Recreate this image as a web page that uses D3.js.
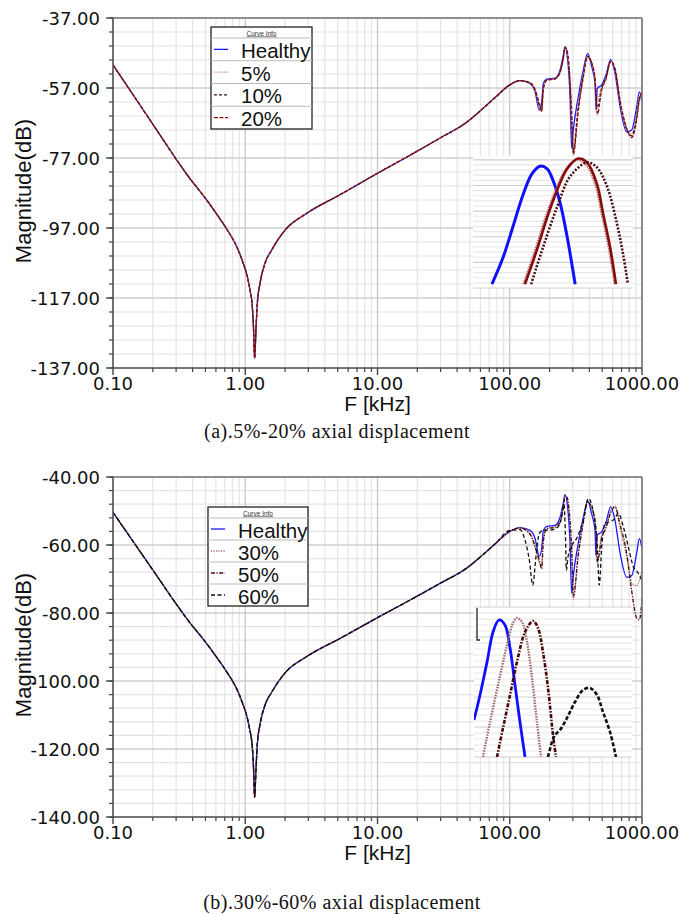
<!DOCTYPE html>
<html>
<head>
<meta charset="utf-8">
<script src="https://cdn.jsdelivr.net/npm/d3@7"></script>
<style>
  body { margin: 0; background: #fff; }
  svg { display: block; }
</style>
</head>
<body>
<svg id="fig" width="688" height="914"></svg>
<script>
// ---------- shared low-frequency band (all curves coincide here) ----------
const lowFreq = [0.1, 0.214, 0.3, 0.382, 0.45, 0.511, 0.607, 0.724, 0.861, 0.966, 1.037, 1.086, 1.125, 1.151, 1.178,
                 1.205, 1.234, 1.293, 1.41, 1.585, 2.0, 2.92, 5.2, 10.4, 16.7, 29.7, 47.2, 59.6];
const lowDb = [-50.4, -69.0, -77.3, -82.9, -86.3, -89.0, -93.0, -97.3, -102.3, -107.1, -110.9, -114.7, -118.5, -124.2, -134.2,
               -126.1, -118.5, -112.8, -107.1, -103.3, -97.6, -92.8, -87.5, -81.0, -76.7, -71.3, -66.8, -63.6];

// ---------- resonance band (kHz) ----------
const hiFreq = [77.3, 100.4, 119.6, 142.3, 155.2, 167.3, 174.5, 179.4, 190.2, 219.6, 239.9, 254.2, 261.8, 272.4,
                285.6, 293.9, 302.6, 329.8, 359.8, 388.2, 416.8, 441.6, 448.8, 459.2, 495.5, 534.2, 579.7, 625.2,
                682.3, 766.3, 835.6, 912, 955, 1000];

const healthyHi = [-59.7, -56.0, -54.9, -55.7, -58.0, -63.3, -60.9, -55.7, -54.5, -54.2, -51.9, -47.6, -45.2, -48.0,
                   -59.5, -74.2, -69.0, -59.5, -51.9, -47.1, -50.9, -55.7, -63.3, -57.1, -56.1, -53.3, -48.8, -52.8,
                   -62.3, -69.5, -69.0, -62.3, -58.1, -61.0];
const ax5Hi  = [-59.7, -56.0, -54.9, -55.6, -57.8, -62.6, -62.2, -56.3, -54.6, -54.3, -52.2, -48.0, -45.3, -47.2,
                -57.5, -70.0, -73.5, -61.5, -53.0, -47.6, -50.3, -55.2, -61.5, -60.5, -56.8, -53.8, -49.1, -52.2,
                -61.5, -69.0, -70.2, -64.0, -59.3, -59.5];
const ax10Hi = [-59.8, -56.1, -54.9, -55.5, -57.6, -62.0, -63.0, -56.9, -54.7, -54.4, -52.4, -48.3, -45.4, -46.9,
                -56.2, -67.0, -75.0, -62.5, -53.5, -47.9, -50.0, -54.8, -60.0, -62.5, -57.1, -54.1, -49.3, -51.8,
                -61.0, -68.8, -70.7, -65.0, -59.9, -58.8];
const ax20Hi = [-59.8, -56.1, -54.9, -55.5, -57.4, -61.5, -63.8, -57.5, -54.8, -54.4, -52.6, -48.6, -45.4, -46.6,
                -55.0, -64.0, -76.0, -63.5, -54.0, -48.2, -49.8, -54.5, -58.5, -64.5, -57.5, -54.5, -49.5, -51.5,
                -60.5, -68.5, -71.2, -66.0, -60.5, -58.0];
const ax30Hi = [-59.7, -55.9, -54.9, -56.5, -60.0, -65.0, -65.5, -58.0, -55.0, -54.6, -53.0, -48.5, -45.3, -46.5,
                -54.0, -63.0, -76.0, -62.0, -53.0, -47.0, -49.5, -53.8, -57.0, -64.5, -57.0, -54.5, -50.0, -48.5,
                -55.0, -63.5, -71.0, -72.0, -70.5, -67.5];
const ax50Hi = [-59.7, -55.9, -55.0, -56.8, -60.5, -64.5, -67.0, -59.0, -55.2, -54.8, -53.3, -49.0, -45.6, -46.2,
                -53.0, -61.0, -75.0, -63.0, -53.5, -47.3, -49.0, -53.0, -56.0, -65.0, -58.0, -55.0, -50.5, -48.8,
                -54.0, -62.5, -73.5, -81.5, -82.0, -76.0];
// 60% displacement shifts the resonances, so it has its own frequency grid
const ax60Freq = [77.3, 100.4, 119.6, 130.3, 140.6, 149.2, 157.9, 167.3, 179.4, 201.4, 232.8, 247.2, 257, 264, 268,
                  276, 296, 321, 360, 393, 428, 459, 475, 496, 525, 573, 614, 662, 722, 788, 860, 937, 1000];
const ax60Hi  = [-59.7, -55.7, -55.5, -58.5, -64.4, -71.8, -63.4, -56.6, -55.6, -55.6, -54.6, -51.7, -48.0, -58.0,
                 -67.4, -63.4, -60.0, -58.0, -52.6, -46.3, -50.2, -60.5, -71.8, -60.5, -53.6, -53.1, -52.5, -50.7,
                 -54.6, -60.5, -66.4, -68.3, -70.5];

// ---------- zoomed insets ----------
const insetAHealthyF = [259.71, 260.13, 260.5, 260.88, 261.21, 261.51, 261.78, 262.0, 262.26, 262.53, 262.83];
const insetAHealthyD = [-46.0, -45.79, -45.55, -45.30, -45.14, -45.08, -45.10, -45.19, -45.36, -45.63, -46.0];
const insetA5F  = [260.90, 261.36, 261.74, 262.12, 262.50, 262.90, 263.22, 263.60, 263.84, 264.10, 264.32];
const insetA5D  = [-46.0, -45.72, -45.47, -45.26, -45.10, -45.03, -45.06, -45.23, -45.46, -45.72, -46.0];
const insetA10F = [261.18, 261.63, 262.15, 262.64, 263.28, 263.65, 264.03, 264.4, 264.63, 264.81];
const insetA10D = [-46.0, -45.71, -45.40, -45.16, -45.05, -45.09, -45.24, -45.53, -45.77, -46.0];
const insetA20F = [260.95, 261.4, 261.78, 262.15, 262.53, 262.94, 263.28, 263.65, 263.88, 264.14, 264.36];
const insetA20D = [-46.0, -45.73, -45.48, -45.27, -45.10, -45.02, -45.05, -45.22, -45.45, -45.71, -46.0];

const insetBHealthyF = [255.0, 255.76, 256.65, 257.41, 258.16, 258.92, 259.56, 260.19, 260.82, 261.46];
const insetBHealthyD = [-56.3, -53.8, -50.5, -47.5, -46.3, -46.8, -49.1, -52.8, -56.5, -60.0];
const insetB30F = [256.14, 257.03, 258.04, 259.18, 259.94, 260.44, 261.08, 261.71, 262.34, 262.97, 263.48];
const insetB30D = [-60.0, -56.5, -52.8, -48.8, -46.6, -46.1, -46.5, -48.5, -52.1, -56.5, -60.0];
const insetB50F = [257.91, 258.67, 259.56, 260.44, 261.46, 262.47, 263.10, 263.73, 264.37, 265.0, 265.38];
const insetB50D = [-60.0, -57.1, -53.8, -50.5, -47.5, -46.4, -47.1, -49.5, -53.1, -57.8, -60.0];
const insetB60F = [264.37, 264.87, 265.25, 265.89, 266.77, 267.78, 268.8, 269.68, 270.57, 271.33, 272.22, 272.97];
const insetB60D = [-60.0, -58.5, -57.8, -57.3, -56.1, -54.5, -53.3, -53.1, -53.8, -55.5, -57.5, -60.0];

// ---------- axes text ----------
const xTickValues = [0.1, 1, 10, 100, 1000];
const xTickLabels = ["0.10", "1.00", "10.00", "100.00", "1000.00"];
const yTicksA = [-37, -57, -77, -97, -117, -137];
const yTickLabelsA = ["-37.00", "-57.00", "-77.00", "-97.00", "-117.00", "-137.00"];
const yTicksB = [-40, -60, -80, -100, -120, -140];
const yTickLabelsB = ["-40.00", "-60.00", "-80.00", "-100.00", "-120.00", "-140.00"];

const legendA = ["Healthy", "5%", "10%", "20%"];
const legendB = ["Healthy", "30%", "50%", "60%"];

// ---------- styles ----------
const STY = {
  healthy: { color: "#1a1aff", dash: null },
  a5:  { color: "#c48a8a", dash: "1.2,1.3" },
  a10: { color: "#3a1414", dash: "3,2" },
  a20: { color: "#8e1010", dash: "4,1.5" },
  a30: { color: "#a86a6a", dash: "1.2,1.3" },
  a50: { color: "#4a0606", dash: "4,1.5,1.2,1.5" },
  a60: { color: "#111111", dash: "4,2.5" }
};

const svg = d3.select("#fig");
const X0 = 113, X1 = 642;
const FONT_TICK = "'DejaVu Sans', sans-serif";
const FONT_SANS = "'Liberation Sans', Arial, sans-serif";
const FONT_SERIF = "'Liberation Serif', 'Times New Roman', serif";

function pairs(f, d) { return f.map((v, i) => [v, d[i]]); }

function panel(cfg) {
  const g = svg.append("g");
  const x = d3.scaleLog().domain([0.1, 1000]).range([X0, X1]);
  const y = d3.scaleLinear().domain([cfg.yMin, cfg.yMax]).range([cfg.bottom, cfg.top]);
  const id = cfg.id;

  // grid
  const minorX = [];
  [0.1, 1, 10, 100].forEach(dec => { for (let k = 2; k <= 9; k++) minorX.push(dec * k); });
  const minorY = d3.range(cfg.yMax, cfg.yMin - 0.01, -4);
  const majorY = d3.range(cfg.yMax, cfg.yMin - 0.01, -20);
  g.selectAll(".gmx").data(minorX).join("line")
    .attr("x1", d => x(d)).attr("x2", d => x(d)).attr("y1", cfg.top).attr("y2", cfg.bottom)
    .attr("stroke", "#e4e4e4").attr("stroke-width", 1.2);
  g.selectAll(".gmy").data(minorY).join("line")
    .attr("x1", X0).attr("x2", X1).attr("y1", d => y(d)).attr("y2", d => y(d))
    .attr("stroke", "#e4e4e4").attr("stroke-width", 1.2);
  g.selectAll(".gMx").data(xTickValues).join("line")
    .attr("x1", d => x(d)).attr("x2", d => x(d)).attr("y1", cfg.top).attr("y2", cfg.bottom)
    .attr("stroke", "#c4c4c4").attr("stroke-width", 1.2);
  g.selectAll(".gMy").data(majorY).join("line")
    .attr("x1", X0).attr("x2", X1).attr("y1", d => y(d)).attr("y2", d => y(d))
    .attr("stroke", "#c4c4c4").attr("stroke-width", 1.2);

  // curves
  g.append("clipPath").attr("id", "clip" + id).append("rect")
    .attr("x", X0).attr("y", cfg.top).attr("width", X1 - X0).attr("height", cfg.bottom - cfg.top);
  const line = d3.line().x(d => x(d[0])).y(d => y(d[1])).curve(d3.curveMonotoneX);
  const cg = g.append("g").attr("clip-path", `url(#clip${id})`);
  cfg.series.forEach(s => {
    cg.append("path").attr("d", line(s.data)).attr("fill", "none")
      .attr("stroke", s.style.color).attr("stroke-width", 1.3)
      .attr("stroke-dasharray", s.style.dash).attr("stroke-linejoin", "round");
  });

  // frame
  g.append("line").attr("x1", X0).attr("x2", X1).attr("y1", cfg.top).attr("y2", cfg.top)
    .attr("stroke", "#777").attr("stroke-width", 1.6);
  g.append("line").attr("x1", X1).attr("x2", X1).attr("y1", cfg.top).attr("y2", cfg.bottom)
    .attr("stroke", "#777").attr("stroke-width", 1.6);
  g.append("line").attr("x1", X0).attr("x2", X0).attr("y1", cfg.top).attr("y2", cfg.bottom)
    .attr("stroke", "#555").attr("stroke-width", 1.6);
  g.append("line").attr("x1", X0).attr("x2", X1).attr("y1", cfg.bottom).attr("y2", cfg.bottom)
    .attr("stroke", "#555").attr("stroke-width", 1.6);

  // tick marks
  g.selectAll(".tmy").data(minorY).join("line")
    .attr("x1", X0 - 4).attr("x2", X0).attr("y1", d => y(d)).attr("y2", d => y(d))
    .attr("stroke", "#444").attr("stroke-width", 1.2);
  g.selectAll(".tMy").data(majorY).join("line")
    .attr("x1", X0 - 7).attr("x2", X0).attr("y1", d => y(d)).attr("y2", d => y(d))
    .attr("stroke", "#444").attr("stroke-width", 1.4);
  g.selectAll(".tmx").data(minorX).join("line")
    .attr("x1", d => x(d)).attr("x2", d => x(d)).attr("y1", cfg.bottom).attr("y2", cfg.bottom + 4)
    .attr("stroke", "#444").attr("stroke-width", 1.2);
  g.selectAll(".tMx").data(xTickValues).join("line")
    .attr("x1", d => x(d)).attr("x2", d => x(d)).attr("y1", cfg.bottom).attr("y2", cfg.bottom + 7)
    .attr("stroke", "#444").attr("stroke-width", 1.4);

  // tick labels
  g.selectAll(".yl").data(cfg.yTicks).join("text")
    .attr("x", 100).attr("y", d => y(d)).attr("text-anchor", "end").attr("dominant-baseline", "central")
    .attr("font-family", FONT_TICK).attr("font-size", 18).attr("fill", "#111")
    .text((d, i) => cfg.yLabels[i]);
  g.selectAll(".xl").data(xTickValues).join("text")
    .attr("x", d => x(d)).attr("y", cfg.bottom + 15).attr("text-anchor", "middle").attr("dominant-baseline", "central")
    .attr("font-family", FONT_TICK).attr("font-size", 18).attr("fill", "#111")
    .text((d, i) => xTickLabels[i]);

  // axis titles
  g.append("text").attr("x", (X0 + X1) / 2).attr("y", cfg.bottom + 35)
    .attr("text-anchor", "middle").attr("dominant-baseline", "central")
    .attr("font-family", FONT_SANS).attr("font-size", 21).attr("fill", "#111").text("F [kHz]");
  g.append("text").attr("transform", `translate(23,${(cfg.top + cfg.bottom) / 2 - 2}) rotate(-90)`)
    .attr("text-anchor", "middle").attr("dominant-baseline", "central")
    .attr("font-family", FONT_SANS).attr("font-size", 22).attr("fill", "#111").text("Magnitude(dB)");

  // legend
  const L = cfg.legend;
  const lg = g.append("g");
  lg.append("rect").attr("x", L.x).attr("y", L.y).attr("width", L.w).attr("height", L.h)
    .attr("fill", "#fff").attr("stroke", "#222").attr("stroke-width", 1.3);
  lg.append("text").attr("x", L.x + L.w / 2).attr("y", L.y + 6).attr("text-anchor", "middle")
    .attr("dominant-baseline", "central").attr("font-family", FONT_SANS).attr("font-size", 6.5)
    .attr("text-decoration", "underline").attr("fill", "#333").text("Curve Info");
  const rowH = (L.h - 11) / 4;
  d3.range(4).forEach(i => {
    lg.append("line").attr("x1", L.x).attr("x2", L.x + L.w)
      .attr("y1", L.y + 11 + i * rowH).attr("y2", L.y + 11 + i * rowH)
      .attr("stroke", "#bbb").attr("stroke-width", 1);
  });
  cfg.series.forEach((s, i) => {
    const cy = L.y + 11 + (i + 0.5) * rowH;
    lg.append("line").attr("x1", L.x + 3).attr("x2", L.x + 17).attr("y1", cy).attr("y2", cy)
      .attr("stroke", s.style.color).attr("stroke-width", 1.3).attr("stroke-dasharray", s.style.dash);
    lg.append("text").attr("x", L.x + 30).attr("y", cy + 1).attr("dominant-baseline", "central")
      .attr("font-family", FONT_SANS).attr("font-size", 20.5).attr("fill", "#111").text(cfg.legendLabels[i]);
  });

  // inset (zoomed view of one resonance peak)
  const I = cfg.inset;
  const ig = g.append("g");
  ig.append("rect").attr("x", I.x0).attr("y", I.y0).attr("width", I.x1 - I.x0).attr("height", I.y1 - I.y0)
    .attr("fill", "#fff");
  const ix = d3.scaleLinear().domain(I.fDomain).range([I.x0, I.x1]);
  const iy = d3.scaleLinear().domain(I.dDomain).range([I.y1, I.y0]);
  const fineY = d3.range(I.dDomain[0], I.dDomain[1] + 1e-6, I.gridStep);
  ig.selectAll(".ig").data(fineY).join("line")
    .attr("x1", I.x0).attr("x2", I.x1).attr("y1", d => iy(d)).attr("y2", d => iy(d))
    .attr("stroke", (d, i) => i % 5 === 0 ? "#cfcfcf" : "#e8e8e8").attr("stroke-width", 1.2);
  if (I.bracket) {
    ig.append("path").attr("d", `M${I.x0 + 3},${I.y0 + 1}V${I.y0 + 33}h3`)
      .attr("fill", "none").attr("stroke", "#222").attr("stroke-width", 1.3);
  }
  ig.append("clipPath").attr("id", "iclip" + id).append("rect")
    .attr("x", I.x0).attr("y", I.y0).attr("width", I.x1 - I.x0).attr("height", I.y1 - I.y0);
  const iline = d3.line().x(d => ix(d[0])).y(d => iy(d[1])).curve(d3.curveCatmullRom);
  const icg = ig.append("g").attr("clip-path", `url(#iclip${id})`);
  I.curves.forEach(c => {
    icg.append("path").attr("d", iline(c.data)).attr("fill", "none")
      .attr("stroke", c.color).attr("stroke-width", c.width)
      .attr("stroke-dasharray", c.dash).attr("stroke-linecap", "butt");
  });

  // caption
  svg.append("text").attr("x", cfg.capX).attr("y", cfg.capY).attr("text-anchor", "middle")
    .attr("dominant-baseline", "central").attr("font-family", FONT_SERIF).attr("font-size", 20)
    .attr("letter-spacing", 0.5).attr("fill", "#111").text(cfg.caption);
}

const full = hi => pairs(lowFreq.concat(hiFreq), lowDb.concat(hi));

panel({
  id: "a", top: 18, bottom: 368, yMin: -137, yMax: -37,
  yTicks: yTicksA, yLabels: yTickLabelsA,
  series: [
    { data: full(healthyHi), style: STY.healthy },
    { data: full(ax5Hi), style: STY.a5 },
    { data: full(ax10Hi), style: STY.a10 },
    { data: full(ax20Hi), style: STY.a20 }
  ],
  legend: { x: 211, y: 27, w: 101, h: 102 },
  legendLabels: legendA,
  inset: {
    x0: 473, x1: 633, y0: 156, y1: 288, fDomain: [259, 265], dDomain: [-46.03, -45.0], gridStep: 0.04,
    curves: [
      { data: pairs(insetAHealthyF, insetAHealthyD), color: "#1010ff", width: 3, dash: null },
      { data: pairs(insetA5F, insetA5D), color: "#b07070", width: 2.6, dash: "1.5,1" },
      { data: pairs(insetA20F, insetA20D), color: "#8a0a0a", width: 2.6, dash: null },
      { data: pairs(insetA10F, insetA10D), color: "#4a1010", width: 2.6, dash: "2,1.6" }
    ]
  },
  caption: "(a).5%-20% axial displacement", capX: 337, capY: 431
});

panel({
  id: "b", top: 477, bottom: 817, yMin: -140, yMax: -40,
  yTicks: yTicksB, yLabels: yTickLabelsB,
  series: [
    { data: full(healthyHi), style: STY.healthy },
    { data: full(ax30Hi), style: STY.a30 },
    { data: full(ax50Hi), style: STY.a50 },
    { data: pairs(lowFreq.concat(ax60Freq), lowDb.concat(ax60Hi)), style: STY.a60 }
  ],
  legend: { x: 208, y: 507, w: 100, h: 99 },
  legendLabels: legendB,
  inset: {
    x0: 474, x1: 632, y0: 607, y1: 757, fDomain: [255, 275], dDomain: [-60, -45], gridStep: 0.6, bracket: true,
    curves: [
      { data: pairs(insetBHealthyF, insetBHealthyD), color: "#1010ff", width: 2.8, dash: null },
      { data: pairs(insetB30F, insetB30D), color: "#a06a6a", width: 2.4, dash: "1.5,1.2" },
      { data: pairs(insetB50F, insetB50D), color: "#4a0606", width: 2.6, dash: "4,1.5,1.5,1.5" },
      { data: pairs(insetB60F, insetB60D), color: "#111", width: 2.6, dash: "4,2" }
    ]
  },
  caption: "(b).30%-60% axial displacement", capX: 342, capY: 902
});
</script>
</body>
</html>
